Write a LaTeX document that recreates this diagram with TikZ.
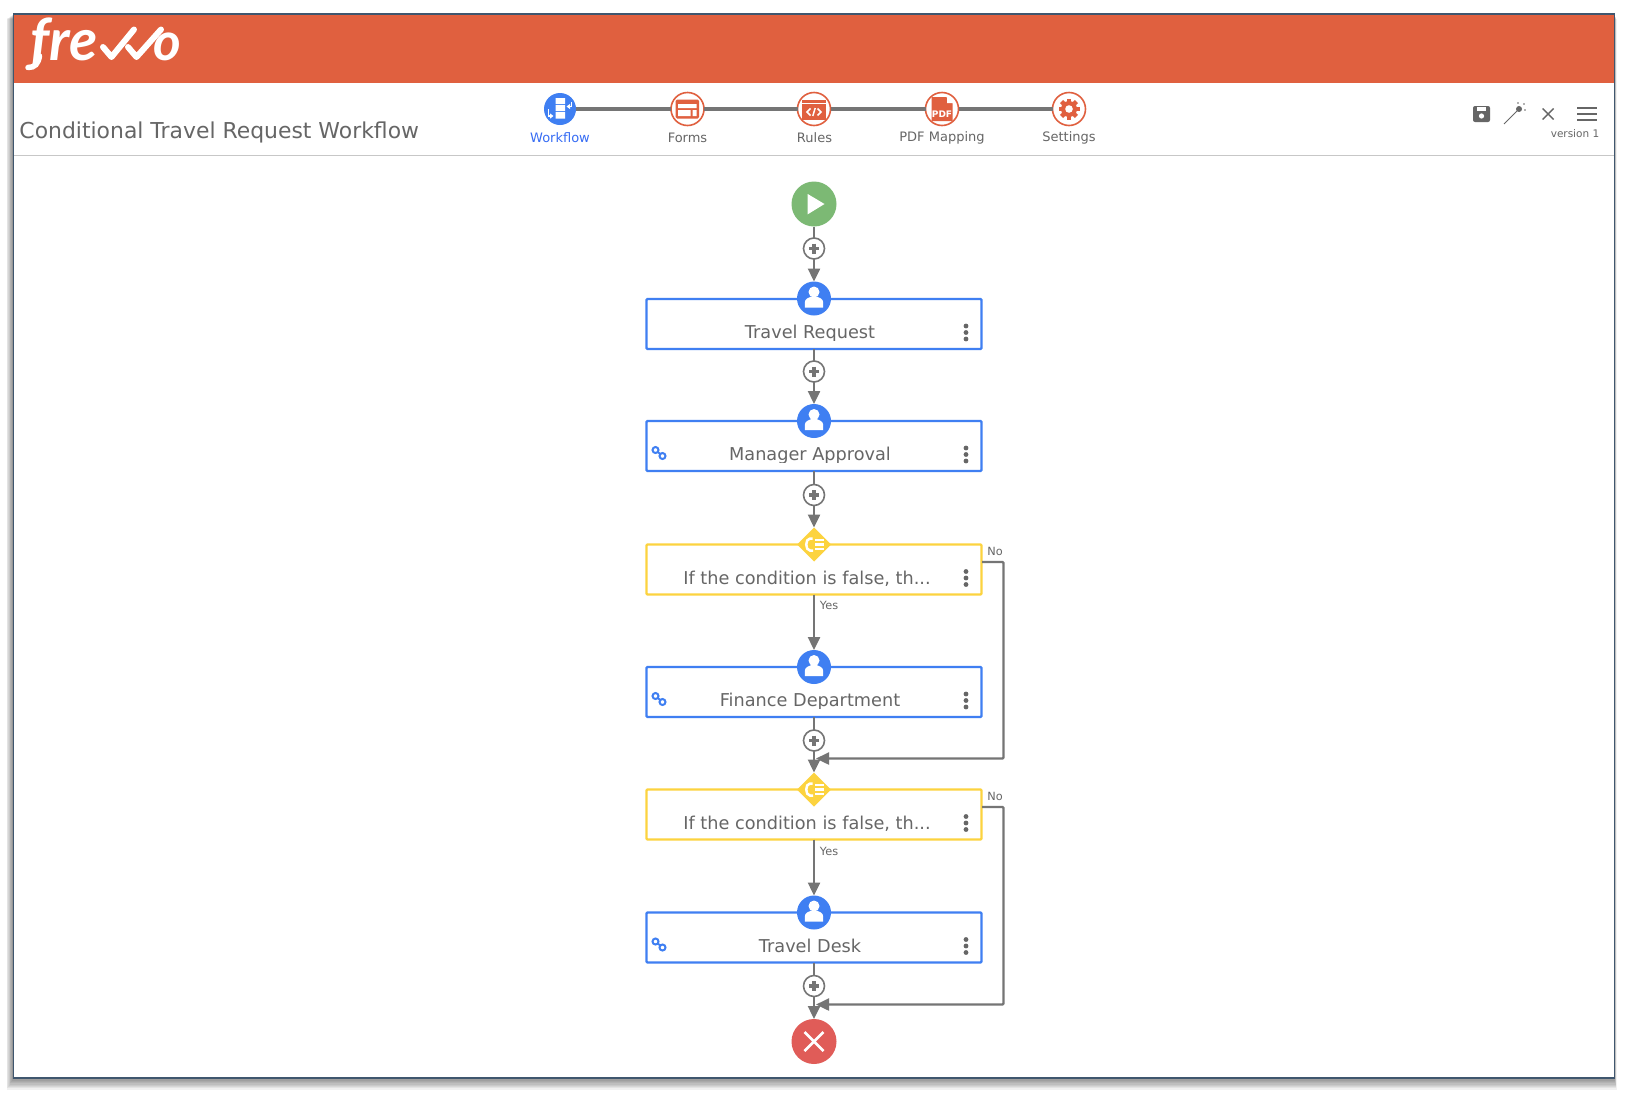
\documentclass[tikz,border=0pt]{standalone}
\usepackage{fontspec}
\setmainfont{DejaVu Sans}
\newfontfamily\logofont{Lato}
\usetikzlibrary{arrows.meta,shapes.geometric,calc}
\definecolor{brand}{HTML}{E0603F}
\definecolor{taskblue}{HTML}{3F7FF2}
\definecolor{gateyellow}{HTML}{FCD33F}
\definecolor{startgreen}{HTML}{7CB974}
\definecolor{endred}{HTML}{E05C58}
\definecolor{linegray}{HTML}{757575}
\definecolor{textgray}{HTML}{666666}
\definecolor{framecol}{HTML}{3F566E}
\tikzset{
  txt/.style={font=\fontsize{#1}{#1}\selectfont,text=textgray,inner sep=0pt,outer sep=0pt},
  taskbox/.style={draw=taskblue,line width=2.2pt,fill=white,minimum width=335pt,minimum height=50pt,inner sep=0pt,outer sep=0pt,rounded corners=1pt},
  gatebox/.style={taskbox,draw=gateyellow},
  usericon/.style={circle,fill=taskblue,minimum size=34pt,inner sep=0pt,outer sep=0pt},
  gateicon/.style={diamond,fill=gateyellow,minimum width=34pt,minimum height=34pt,inner sep=0pt,outer sep=0pt},
  addicon/.style={circle,draw=linegray,line width=1.6pt,fill=white,minimum size=21pt,inner sep=0pt,outer sep=0pt},
  bigicon/.style={circle,minimum size=45pt,inner sep=0pt,outer sep=0pt},
  stepicon/.style={circle,draw=brand,line width=1.6pt,fill=white,minimum size=33pt,inner sep=0pt,outer sep=0pt},
  conn/.style={draw=linegray,line width=2.4pt},
  flow/.style={conn,-{Triangle[length=13pt,width=12pt]}},
  edgelabel/.style={txt=11.3},
  steplabel/.style={txt=13},
  logotext/.style={inner sep=0pt,outer sep=0pt,text=white,anchor=base west},
}
\newcommand{\PlusGlyph}[1]{\draw[linegray,line width=3.2pt] ($(#1.center)+(-5,0)$) -- ($(#1.center)+(5,0)$) ($(#1.center)+(0,-5)$) -- ($(#1.center)+(0,5)$);}
\newcommand{\PersonGlyph}[1]{\begin{scope}[shift={(#1.center)}]
  \fill[white] (0,-6.5) circle (5.5pt);
  \fill[white] (-9.2,9) -- (-9.2,4) .. controls (-9.2,0) and (-5,-1) .. (-2.5,-2) -- (2.5,-2) .. controls (5,-1) and (9.2,0) .. (9.2,4) -- (9.2,9) -- cycle;
\end{scope}}
\newcommand{\GateGlyph}[1]{\begin{scope}[shift={(#1.center)}]
  \draw[white,line width=2.5pt] (-1.5,-6) -- (-4,-6) .. controls (-9,-6) and (-9,6) .. (-4,6) -- (-1,6);
  \draw[white,line width=2.2pt] (1,-4.5) -- (9.5,-4.5) (1,0) -- (9.5,0) (1,4.5) -- (9.5,4.5);
\end{scope}}
\newcommand{\KebabGlyph}[1]{\fill[textgray] ($(#1.north west)+(319.5,27)$) circle (2.4pt) ($(#1.north west)+(319.5,33.5)$) circle (2.4pt) ($(#1.north west)+(319.5,40)$) circle (2.4pt);}
\newcommand{\LinkGlyph}[1]{\begin{scope}[shift={(#1.north west)}]
  \draw[taskblue,line width=2pt] (9,29) circle (3pt) (16,35) circle (3pt) (11,31) -- (14,33);
\end{scope}}
\newcommand{\BoxText}[4]{\begin{scope}\clip ($(#1.north west)+(0,2)$) rectangle ($(#1.north east)+(0,41)$);
  \node[txt=17.7,anchor=base] (#2) at ($(#1.north)+(#4,39.5)$) {#3};\end{scope}}
\begin{document}
\begin{tikzpicture}[x=1pt,y=-1pt]
\useasboundingbox (0,0) rectangle (1629,1093);
\fill[white] (0,0) rectangle (1629,1093);
% drop shadow
\foreach \i in {1,...,9}{
  \fill[black,opacity=0.055] ({13-\i*0.7},{14+\i*0.5}) rectangle ({1614+\i*0.3},{1078+\i*1.3});
}
% window
\fill[white] (13.5,14) rectangle (1614.5,1078);
\fill[brand] (13.5,14) rectangle (1614.5,82.5);
\draw[black!22,line width=1.2pt] (13.5,155.5) -- (1614.5,155.5);
\draw[framecol,line width=1.2pt] (13.5,14) rectangle (1614.5,1078);
% logo
\node[logotext,font=\logofont\fontsize{58}{58}\selectfont\bfseries\itshape] (logofre) at (30,60) {fre};
\draw[white,line width=5.5pt,line cap=round] (39.5,56) .. controls (38,64) and (35,67.5) .. (28,67.5);
\node[logotext,font=\logofont\fontsize{53}{53}\selectfont\bfseries\itshape] (logoo) at (153.5,60) {o};
\draw[white,line width=6pt,line cap=round,line join=round] (103,47) -- (111.5,57) -- (134,29.5);
\draw[white,line width=6pt,line cap=round,line join=round] (128,47) -- (136.5,57) -- (161,29.5);
% title
\node[txt=21.9,anchor=base west] (title) at (19.5,138) {Conditional Travel Request Workflow};
% steps bar
\node[circle,fill=taskblue,minimum size=32pt,inner sep=0pt,outer sep=0pt] (wf) at (560,109) {};
\node[stepicon] (forms) at (687.5,109) {};
\node[stepicon] (rules) at (814,109) {};
\node[stepicon] (pdf) at (942,109) {};
\node[stepicon] (settings) at (1069,109) {};
\draw[linegray,line width=3.2pt] (wf) -- (forms);
\draw[linegray,line width=3.2pt] (forms) -- (rules);
\draw[linegray,line width=3.2pt] (rules) -- (pdf);
\draw[linegray,line width=3.2pt] (pdf) -- (settings);
% workflow glyph
\begin{scope}[shift={(wf.center)}]
  \fill[white] (-4.5,-11) rectangle (5,-5) (-4.5,-4) rectangle (5,2) (-4.5,3) rectangle (5,9.5);
  \draw[white,line width=1.5pt,-{Triangle[length=3.5pt,width=5pt]}] (11.5,-7) -- (11.5,-2.5) -- (6.5,-2.5);
  \draw[white,line width=1.5pt,-{Triangle[length=3.5pt,width=5pt]}] (-11.5,0) -- (-11.5,7) -- (-6.5,7);
\end{scope}
% forms glyph
\begin{scope}[shift={(forms.center)}]
  \fill[brand,rounded corners=1.5pt] (-12,-9.5) rectangle (11.5,9.5);
  \fill[white] (-9.5,-5) rectangle (9,-1) (-9.5,1) rectangle (3,7) (5,1) rectangle (9,7);
\end{scope}
% rules glyph
\begin{scope}[shift={(rules.center)}]
  \fill[brand] (-12,-9.5) rectangle (12,10.5);
  \draw[white,line width=.9pt] (-12,-5.5) -- (12,-5.5);
  \draw[white,line width=1.5pt] (-3.5,-0.5) -- (-7,3) -- (-3.5,6.5) (3.5,-0.5) -- (7,3) -- (3.5,6.5) (1.2,-1) -- (-1.2,7);
\end{scope}
% pdf glyph
\begin{scope}[shift={(pdf.center)}]
  \fill[brand] (-10.5,-12) -- (4,-12) -- (10.5,-5.5) -- (10.5,12) -- (-10.5,12) -- cycle;
  \fill[white] (5,-12) -- (11,-6) -- (5,-6) -- cycle;
  \node[font=\fontsize{9}{9}\selectfont\bfseries,text=white,inner sep=0pt] (pdftext) at (0,5) {PDF};
\end{scope}
% settings glyph
\begin{scope}[shift={(settings.center)}]
  \foreach \a in {0,45,...,315}{\draw[brand,line width=4.5pt] (0,0) -- (\a:10.5pt);}
  \fill[brand] (0,0) circle (8pt);
  \fill[white] (0,0) circle (3.8pt);
\end{scope}
\node[steplabel,text=taskblue!85!blue] (lwf) at (560,138) {Workflow};
\node[steplabel] (lforms) at (687.5,138) {Forms};
\node[steplabel] (lrules) at (814.5,138) {Rules};
\node[steplabel] (lpdf) at (942,138) {PDF Mapping};
\node[steplabel] (lsettings) at (1069,138) {Settings};
% toolbar
\fill[textgray,rounded corners=2pt] (1473,106) rectangle (1490,122);
\fill[white] (1477,107) rectangle (1486,110.5);
\fill[white] (1481.5,116) circle (2.6pt);
\draw[textgray,line width=1pt] (1504,124) -- (1518,110);
\fill[textgray] (1519,109) circle (3pt);
\fill[textgray] (1524,104) circle (.8pt) (1525,110) circle (.8pt) (1518,103) circle (.8pt);
\draw[textgray,line width=1.4pt] (1542.5,108.5) -- (1553.5,119.5) (1553.5,108.5) -- (1542.5,119.5);
\draw[textgray,line width=1.8pt] (1577,108) -- (1597,108) (1577,114) -- (1597,114) (1577,120) -- (1597,120);
\node[txt=10.5] (version) at (1575,134) {version 1};
% nodes
\node[bigicon,fill=startgreen] (start) at (814,204) {};
\node[addicon] (p1) at (814,248.5) {};
\node[taskbox] (tr) at (814,324) {};
\node[usericon] (utr) at (814,298.5) {};
\node[addicon] (p2) at (814,371.5) {};
\node[taskbox] (ma) at (814,446) {};
\node[usericon] (uma) at (814,421) {};
\node[addicon] (p3) at (814,495) {};
\node[gatebox] (g1) at (814,569.5) {};
\node[gateicon] (dg1) at (814,544.5) {};
\node[taskbox] (fd) at (814,692) {};
\node[usericon] (ufd) at (814,667) {};
\node[addicon] (p4) at (814,740.5) {};
\node[gatebox] (g2) at (814,814.5) {};
\node[gateicon] (dg2) at (814,789.5) {};
\node[taskbox] (td) at (814,937.5) {};
\node[usericon] (utd) at (814,912.5) {};
\node[addicon] (p5) at (814,986) {};
\node[bigicon,fill=endred] (stop) at (814,1041.5) {};
% junction coordinates
\coordinate (no1) at (982,562);
\coordinate (bend1) at (1003.5,758.5);
\coordinate (join1) at (816,758.5);
\coordinate (no2) at (982,807);
\coordinate (bend2) at (1003.5,1004.5);
\coordinate (join2) at (816,1004.5);
% connectors
\draw[conn] (start) -- (p1);
\draw[flow] (p1) -- (utr);
\draw[conn] (tr) -- (p2);
\draw[flow] (p2) -- (uma);
\draw[conn] (ma) -- (p3);
\draw[flow] (p3) -- (dg1);
\draw[flow] (g1.south) -- (ufd);
\draw[conn] (fd) -- (p4);
\draw[flow] (p4) -- (dg2);
\draw[flow] (g2.south) -- (utd);
\draw[conn] (td) -- (p5);
\draw[flow] (p5) -- (stop);
\draw[flow,rounded corners=1pt] (no1) -| (bend1) -- (join1);
\draw[flow,rounded corners=1pt] (no2) -| (bend2) -- (join2);
% glyphs
\fill[white] ($(start.center)+(-6.3,-10)$) -- ($(start.center)+(-6.3,10.3)$) -- ($(start.center)+(10.5,0)$) -- cycle;
\draw[white,line width=2.6pt] ($(stop.center)+(-9.5,-9.5)$) -- ($(stop.center)+(9.5,9.5)$) ($(stop.center)+(9.5,-9.5)$) -- ($(stop.center)+(-9.5,9.5)$);
\PlusGlyph{p1}\PlusGlyph{p2}\PlusGlyph{p3}\PlusGlyph{p4}\PlusGlyph{p5}
\PersonGlyph{utr}\PersonGlyph{uma}\PersonGlyph{ufd}\PersonGlyph{utd}
\GateGlyph{dg1}\GateGlyph{dg2}
\KebabGlyph{tr}\KebabGlyph{ma}\KebabGlyph{g1}\KebabGlyph{fd}\KebabGlyph{g2}\KebabGlyph{td}
\LinkGlyph{ma}\LinkGlyph{fd}\LinkGlyph{td}
\BoxText{tr}{ttr}{Travel Request}{-4}
\BoxText{ma}{tma}{Manager Approval}{-4}
\BoxText{g1}{tg1}{If the condition is false, th...}{-7}
\BoxText{fd}{tfd}{Finance Department}{-4}
\BoxText{g2}{tg2}{If the condition is false, th...}{-7}
\BoxText{td}{ttd}{Travel Desk}{-4}
% edge labels
\node[edgelabel] (no1l) at (995,551.5) {No};
\node[edgelabel] (yes1l) at (829,605.5) {Yes};
\node[edgelabel] (no2l) at (995,796.5) {No};
\node[edgelabel] (yes2l) at (829,851.5) {Yes};
\end{tikzpicture}
\end{document}
